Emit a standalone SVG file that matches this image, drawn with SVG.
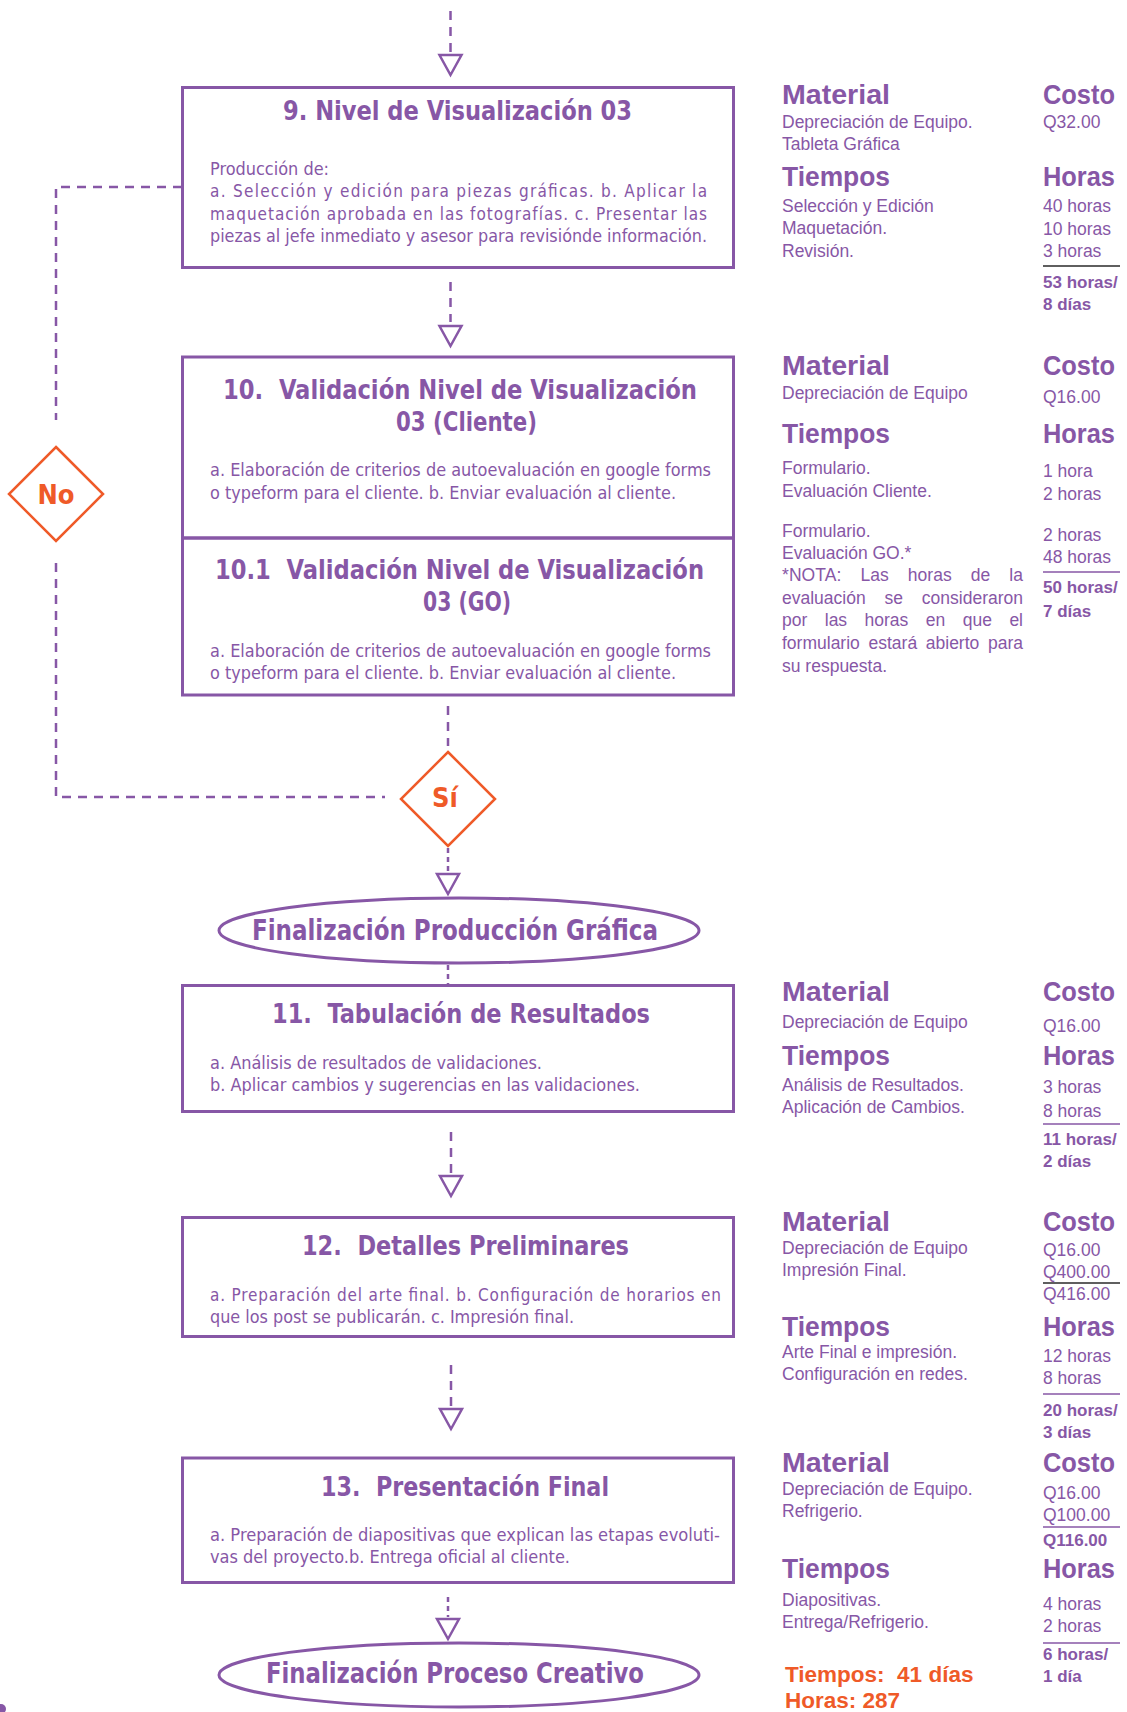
<svg xmlns="http://www.w3.org/2000/svg" xmlns:xlink="http://www.w3.org/1999/xlink" width="1127" height="1712" viewBox="0 0 1127 1712">
<style>
.box{fill:none;stroke:#8757A6;stroke-width:3}
.t{font-family:"Liberation Sans Narrow","DejaVu Sans Condensed","Liberation Sans",sans-serif;fill:#8757A6}
.title{font-weight:bold;font-size:27px}
.body{font-size:17px}
.h{font-family:"Liberation Sans",Arial,sans-serif;font-weight:bold;font-size:27px;fill:#8757A6}
.r{font-family:"Liberation Sans",Arial,sans-serif;font-size:17.5px;fill:#8757A6}
.rb{font-family:"Liberation Sans",Arial,sans-serif;font-size:17px;font-weight:bold;fill:#8757A6}
.or{font-family:"Liberation Sans",Arial,sans-serif;font-size:22.5px;font-weight:bold;fill:#EF5A28}
.dec{fill:#fff;stroke:#EF5A28;stroke-width:2.5}
.dt{font-family:"Liberation Sans Narrow","DejaVu Sans Condensed",sans-serif;font-weight:bold;font-size:27px;fill:#EF5A28;text-anchor:middle}
.conn{fill:none;stroke:#8757A6;stroke-width:2.5;stroke-dasharray:9 7}
.dot{fill:none;stroke:#8757A6;stroke-width:2.5;stroke-dasharray:5 4}
.tri{fill:#fff;stroke:#8757A6;stroke-width:2.5;stroke-linejoin:miter}
.rule{stroke:#8757A6;stroke-width:1.5}
.rule2{stroke:#2a2a2a;stroke-width:1.5}
</style>
<defs>
<path id="tri" d="M-11,0 L11,0 L0,20 Z"/>
</defs>
<rect width="1127" height="1712" fill="#fff"/>

<g id="connectors">
<line class="conn" x1="450.5" y1="11" x2="450.5" y2="52"/>
<use xlink:href="#tri" class="tri" x="450.5" y="55"/>
<line class="conn" x1="450.5" y1="282" x2="450.5" y2="322"/>
<use xlink:href="#tri" class="tri" x="450.5" y="326"/>
<line class="conn" x1="448" y1="706" x2="448" y2="746"/>
<line class="dot" x1="448" y1="848" x2="448" y2="872"/>
<use xlink:href="#tri" class="tri" x="448" y="874"/>
<line class="dot" x1="448" y1="965" x2="448" y2="985"/>
<line class="conn" x1="451" y1="1132" x2="451" y2="1174"/>
<use xlink:href="#tri" class="tri" x="451" y="1176"/>
<line class="conn" x1="451" y1="1365" x2="451" y2="1406"/>
<use xlink:href="#tri" class="tri" x="451" y="1409"/>
<line class="dot" x1="448" y1="1597" x2="448" y2="1617"/>
<use xlink:href="#tri" class="tri" x="448" y="1619"/>
<path class="conn" d="M182,187 H56 V420"/>
<path class="conn" d="M56,563 V797 H385"/>
</g>

<g id="node9">
<rect class="box" x="182.5" y="87.5" width="551" height="180"/>
<text class="t title" x="283" y="120" textLength="349" lengthAdjust="spacingAndGlyphs">9. Nivel de Visualización 03</text>
<text class="t body" x="210" y="175" textLength="119" lengthAdjust="spacingAndGlyphs">Producción de:</text>
<text class="t body" x="210" y="197" textLength="497" lengthAdjust="spacing">a. Selección y edición para piezas gráficas. b. Aplicar la</text>
<text class="t body" x="210" y="219.5" textLength="497" lengthAdjust="spacing">maquetación aprobada en las fotografías. c. Presentar las</text>
<text class="t body" x="210" y="242" textLength="497" lengthAdjust="spacingAndGlyphs">piezas al jefe inmediato y asesor para revisiónde información.</text>
</g>

<g id="node10">
<rect class="box" x="182.5" y="357" width="551" height="181"/>
<text class="t title" x="223" y="399" textLength="474" lengthAdjust="spacingAndGlyphs" xml:space="preserve">10.  Validación Nivel de Visualización</text>
<text class="t title" x="396" y="431" textLength="141" lengthAdjust="spacingAndGlyphs">03 (Cliente)</text>
<text class="t body" x="210" y="476" textLength="501" lengthAdjust="spacingAndGlyphs">a. Elaboración de criterios de autoevaluación en google forms</text>
<text class="t body" x="210" y="498.5" textLength="466" lengthAdjust="spacingAndGlyphs">o typeform para el cliente. b. Enviar evaluación al cliente.</text>
</g>

<g id="node10_1">
<rect class="box" x="182.5" y="538" width="551" height="157"/>
<text class="t title" x="215" y="579" textLength="489" lengthAdjust="spacingAndGlyphs" xml:space="preserve">10.1  Validación Nivel de Visualización</text>
<text class="t title" x="423" y="611" textLength="88" lengthAdjust="spacingAndGlyphs">03 (GO)</text>
<text class="t body" x="210" y="656.5" textLength="501" lengthAdjust="spacingAndGlyphs">a. Elaboración de criterios de autoevaluación en google forms</text>
<text class="t body" x="210" y="678.5" textLength="466" lengthAdjust="spacingAndGlyphs">o typeform para el cliente. b. Enviar evaluación al cliente.</text>
</g>

<g id="decisionNo">
<polygon class="dec" points="56,447 103,494 56,541 9,494"/>
<text class="dt" x="56" y="503.5">No</text>
</g>

<g id="decisionSi">
<polygon class="dec" points="448,752 495,799 448,846 401,799"/>
<text class="dt" x="445" y="807">Sí</text>
</g>

<g id="endProduccion">
<ellipse class="box" cx="459" cy="930.5" rx="240" ry="32.5"/>
<text class="t title" x="252" y="940" textLength="406" lengthAdjust="spacingAndGlyphs" style="font-size:29px">Finalización Producción Gráfica</text>
</g>

<g id="node11">
<rect class="box" x="182.5" y="985.5" width="551" height="126"/>
<text class="t title" x="272" y="1023" textLength="378" lengthAdjust="spacingAndGlyphs" xml:space="preserve">11.  Tabulación de Resultados</text>
<text class="t body" x="210" y="1069" textLength="332" lengthAdjust="spacingAndGlyphs">a. Análisis de resultados de validaciones.</text>
<text class="t body" x="210" y="1091" textLength="430" lengthAdjust="spacingAndGlyphs">b. Aplicar cambios y sugerencias en las validaciones.</text>
</g>

<g id="node12">
<rect class="box" x="182.5" y="1217.5" width="551" height="119"/>
<text class="t title" x="302" y="1255" textLength="327" lengthAdjust="spacingAndGlyphs" xml:space="preserve">12.  Detalles Preliminares</text>
<text class="t body" x="210" y="1301" textLength="511" lengthAdjust="spacing">a. Preparación del arte final. b. Configuración de horarios en</text>
<text class="t body" x="210" y="1323" textLength="364" lengthAdjust="spacingAndGlyphs">que los post se publicarán. c. Impresión final.</text>
</g>

<g id="node13">
<rect class="box" x="182.5" y="1458" width="551" height="124.5"/>
<text class="t title" x="321" y="1496" textLength="288" lengthAdjust="spacingAndGlyphs" xml:space="preserve">13.  Presentación Final</text>
<text class="t body" x="210" y="1541" textLength="510" lengthAdjust="spacingAndGlyphs">a. Preparación de diapositivas que explican las etapas evoluti-</text>
<text class="t body" x="210" y="1563" textLength="360" lengthAdjust="spacingAndGlyphs">vas del proyecto.b. Entrega oficial al cliente.</text>
</g>

<g id="endProceso">
<ellipse class="box" cx="459" cy="1675" rx="240" ry="32"/>
<text class="t title" x="266" y="1683" textLength="378" lengthAdjust="spacingAndGlyphs" style="font-size:29px">Finalización Proceso Creativo</text>
</g>

<circle cx="1" cy="1709" r="5" fill="#8757A6"/>

<g id="info9">
<text class="h" x="782" y="104" textLength="108" lengthAdjust="spacingAndGlyphs">Material</text>
<text class="h" x="1043" y="104" textLength="72" lengthAdjust="spacingAndGlyphs">Costo</text>
<text class="r" x="782" y="128">Depreciación de Equipo.</text>
<text class="r" x="782" y="150">Tableta Gráfica</text>
<text class="r" x="1043" y="128">Q32.00</text>
<text class="h" x="782" y="186" textLength="108" lengthAdjust="spacingAndGlyphs">Tiempos</text>
<text class="h" x="1043" y="186" textLength="72" lengthAdjust="spacingAndGlyphs">Horas</text>
<text class="r" x="782" y="212">Selección y Edición</text>
<text class="r" x="782" y="234">Maquetación.</text>
<text class="r" x="782" y="257">Revisión.</text>
<text class="r" x="1043" y="212">40 horas</text>
<text class="r" x="1043" y="235">10 horas</text>
<text class="r" x="1043" y="257">3 horas</text>
<line class="rule2" x1="1043" y1="266" x2="1120" y2="266"/>
<text class="rb" x="1043" y="288">53 horas/</text>
<text class="rb" x="1043" y="310">8 días</text>
</g>

<g id="info10">
<text class="h" x="782" y="375" textLength="108" lengthAdjust="spacingAndGlyphs">Material</text>
<text class="h" x="1043" y="375" textLength="72" lengthAdjust="spacingAndGlyphs">Costo</text>
<text class="r" x="782" y="399">Depreciación de Equipo</text>
<text class="r" x="1043" y="403">Q16.00</text>
<text class="h" x="782" y="443" textLength="108" lengthAdjust="spacingAndGlyphs">Tiempos</text>
<text class="h" x="1043" y="443" textLength="72" lengthAdjust="spacingAndGlyphs">Horas</text>
<text class="r" x="782" y="474">Formulario.</text>
<text class="r" x="782" y="497">Evaluación Cliente.</text>
<text class="r" x="1043" y="477">1 hora</text>
<text class="r" x="1043" y="500">2 horas</text>
<text class="r" x="782" y="537">Formulario.</text>
<text class="r" x="782" y="559">Evaluación GO.*</text>
<text class="r" x="1043" y="541">2 horas</text>
<text class="r" x="1043" y="563">48 horas</text>
<line class="rule" x1="1043" y1="572" x2="1120" y2="572"/>
<text class="rb" x="1043" y="593">50 horas/</text>
<text class="rb" x="1043" y="617">7 días</text>
<text class="r" x="782" y="581" style="word-spacing:14px" textLength="241" lengthAdjust="spacing">*NOTA: Las horas de la</text>
<text class="r" x="782" y="603.5" style="word-spacing:14px" textLength="241" lengthAdjust="spacing">evaluación se consideraron</text>
<text class="r" x="782" y="626" style="word-spacing:12.6px" textLength="241" lengthAdjust="spacing">por las horas en que el</text>
<text class="r" x="782" y="648.5" style="word-spacing:3.8px" textLength="241" lengthAdjust="spacing">formulario estará abierto para</text>
<text class="r" x="782" y="672">su respuesta.</text>
</g>

<g id="info11">
<text class="h" x="782" y="1001" textLength="108" lengthAdjust="spacingAndGlyphs">Material</text>
<text class="h" x="1043" y="1001" textLength="72" lengthAdjust="spacingAndGlyphs">Costo</text>
<text class="r" x="782" y="1028">Depreciación de Equipo</text>
<text class="r" x="1043" y="1032">Q16.00</text>
<text class="h" x="782" y="1065" textLength="108" lengthAdjust="spacingAndGlyphs">Tiempos</text>
<text class="h" x="1043" y="1065" textLength="72" lengthAdjust="spacingAndGlyphs">Horas</text>
<text class="r" x="782" y="1091">Análisis de Resultados.</text>
<text class="r" x="782" y="1113">Aplicación de Cambios.</text>
<text class="r" x="1043" y="1093">3 horas</text>
<text class="r" x="1043" y="1117">8 horas</text>
<line class="rule" x1="1043" y1="1124" x2="1120" y2="1124"/>
<text class="rb" x="1043" y="1145">11 horas/</text>
<text class="rb" x="1043" y="1167">2 días</text>
</g>

<g id="info12">
<text class="h" x="782" y="1231" textLength="108" lengthAdjust="spacingAndGlyphs">Material</text>
<text class="h" x="1043" y="1231" textLength="72" lengthAdjust="spacingAndGlyphs">Costo</text>
<text class="r" x="782" y="1254">Depreciación de Equipo</text>
<text class="r" x="782" y="1276">Impresión Final.</text>
<text class="r" x="1043" y="1256">Q16.00</text>
<text class="r" x="1043" y="1277.5">Q400.00</text>
<line class="rule2" x1="1043" y1="1283" x2="1120" y2="1283"/>
<text class="r" x="1043" y="1300">Q416.00</text>
<text class="h" x="782" y="1336" textLength="108" lengthAdjust="spacingAndGlyphs">Tiempos</text>
<text class="h" x="1043" y="1336" textLength="72" lengthAdjust="spacingAndGlyphs">Horas</text>
<text class="r" x="782" y="1358">Arte Final e impresión.</text>
<text class="r" x="782" y="1380">Configuración en redes.</text>
<text class="r" x="1043" y="1362">12 horas</text>
<text class="r" x="1043" y="1384">8 horas</text>
<line class="rule" x1="1043" y1="1394" x2="1120" y2="1394"/>
<text class="rb" x="1043" y="1416">20 horas/</text>
<text class="rb" x="1043" y="1438">3 días</text>
</g>

<g id="info13">
<text class="h" x="782" y="1472" textLength="108" lengthAdjust="spacingAndGlyphs">Material</text>
<text class="h" x="1043" y="1472" textLength="72" lengthAdjust="spacingAndGlyphs">Costo</text>
<text class="r" x="782" y="1495">Depreciación de Equipo.</text>
<text class="r" x="782" y="1517">Refrigerio.</text>
<text class="r" x="1043" y="1499">Q16.00</text>
<text class="r" x="1043" y="1521">Q100.00</text>
<line class="rule" x1="1043" y1="1527" x2="1120" y2="1527"/>
<text class="rb" x="1043" y="1546">Q116.00</text>
<text class="h" x="782" y="1578" textLength="108" lengthAdjust="spacingAndGlyphs">Tiempos</text>
<text class="h" x="1043" y="1578" textLength="72" lengthAdjust="spacingAndGlyphs">Horas</text>
<text class="r" x="782" y="1606">Diapositivas.</text>
<text class="r" x="782" y="1628">Entrega/Refrigerio.</text>
<text class="r" x="1043" y="1610">4 horas</text>
<text class="r" x="1043" y="1632">2 horas</text>
<line class="rule" x1="1043" y1="1643" x2="1120" y2="1643"/>
<text class="rb" x="1043" y="1660">6 horas/</text>
<text class="rb" x="1043" y="1682">1 día</text>
</g>

<g id="totals">
<text class="or" x="785" y="1682" xml:space="preserve">Tiempos:  41 días</text>
<text class="or" x="785" y="1708">Horas: 287</text>
</g>
</svg>
